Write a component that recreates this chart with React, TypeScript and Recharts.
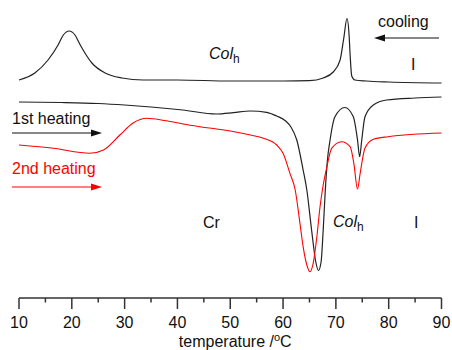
import { Line, LineChart, XAxis, YAxis } from 'recharts';

// DSC traces, heat flow in arbitrary units (endo down)
const coolingCurve = [
  { t: 10, v: 218 }, { t: 13, v: 225 }, { t: 15.5, v: 238 }, { t: 17.4, v: 253 },
  { t: 18.4, v: 263 }, { t: 19.5, v: 267 }, { t: 20.6, v: 263 }, { t: 21.6, v: 253 },
  { t: 23.8, v: 235 }, { t: 26.3, v: 225 }, { t: 29.5, v: 220 }, { t: 33.5, v: 218 },
  { t: 40, v: 218 }, { t: 50, v: 217 }, { t: 60, v: 217 }, { t: 65, v: 217.3 },
  { t: 67.6, v: 220 }, { t: 69.5, v: 226 }, { t: 70.8, v: 238 }, { t: 71.5, v: 260 },
  { t: 72.1, v: 279.5 }, { t: 72.5, v: 263 }, { t: 72.7, v: 243 }, { t: 73.0, v: 222 },
  { t: 73.6, v: 218 }, { t: 75.8, v: 217 }, { t: 80, v: 216 }, { t: 90, v: 215 },
];

const firstHeating = [
  { t: 10, v: 196 }, { t: 18, v: 195.5 }, { t: 25, v: 194.5 }, { t: 30, v: 193 },
  { t: 35, v: 191 }, { t: 41, v: 188 }, { t: 47.4, v: 184 }, { t: 50.6, v: 185.3 },
  { t: 53.8, v: 187 }, { t: 56.9, v: 185.7 }, { t: 58.8, v: 182 }, { t: 60.5, v: 177 },
  { t: 61.5, v: 171 }, { t: 62.6, v: 158 }, { t: 63.8, v: 128 }, { t: 64.5, v: 108 },
  { t: 65.4, v: 68 }, { t: 66.2, v: 36 }, { t: 66.7, v: 27.5 }, { t: 67.2, v: 36 },
  { t: 67.6, v: 68 }, { t: 68.0, v: 108 }, { t: 68.4, v: 138 }, { t: 68.9, v: 158 },
  { t: 69.8, v: 181 }, { t: 71.7, v: 190.5 }, { t: 73.3, v: 181.3 }, { t: 74.1, v: 158 },
  { t: 74.5, v: 141.3 }, { t: 74.9, v: 158 }, { t: 75.5, v: 181 }, { t: 77.1, v: 193 },
  { t: 79.6, v: 198 }, { t: 85, v: 200 }, { t: 90, v: 201 },
];

const secondHeating = [
  { t: 10, v: 153 }, { t: 16.5, v: 149.7 }, { t: 23.4, v: 144.7 }, { t: 26, v: 148 },
  { t: 29.1, v: 163 }, { t: 31.6, v: 175 }, { t: 34.2, v: 179.7 }, { t: 37.5, v: 177.5 },
  { t: 41.1, v: 174 }, { t: 44.5, v: 171 }, { t: 47.4, v: 169 }, { t: 51, v: 166 },
  { t: 53.8, v: 163 }, { t: 56.3, v: 159.7 },
  { t: 58.8, v: 153 }, { t: 60, v: 144.7 }, { t: 61.3, v: 124.7 }, { t: 62.3, v: 108 },
  { t: 63.2, v: 74.7 }, { t: 63.8, v: 51.3 }, { t: 64.5, v: 33 }, { t: 65.1, v: 26.3 },
  { t: 65.7, v: 34.7 }, { t: 66.4, v: 61.3 }, { t: 67, v: 91.3 }, { t: 67.6, v: 113 },
  { t: 68.3, v: 131.3 }, { t: 69.2, v: 149.7 }, { t: 71.1, v: 156.3 }, { t: 72.7, v: 151.3 },
  { t: 73.4, v: 134.7 }, { t: 74.1, v: 109 }, { t: 74.6, v: 124.7 }, { t: 75.5, v: 149.7 },
  { t: 77.1, v: 158.7 }, { t: 79.9, v: 161.3 }, { t: 90, v: 165 },
];

const tempTicks = [10, 15, 20, 25, 30, 35, 40, 45, 50, 55, 60, 65, 70, 75, 80, 85, 90];

const FONT = '"Liberation Sans", Arial, Helvetica, sans-serif';
const AXIS = '#333';

function TempTick({ x, y, payload }: any) {
  const major = payload.value % 10 === 0;
  return (
    <g>
      <line x1={x} x2={x} y1={y} y2={y + (major ? 11 : 4.5)} stroke={AXIS} strokeWidth={1.5} />
      {major && (
        <text x={x} y={y + 30} textAnchor="middle" fontSize={16} fontFamily={FONT} fill="#111">
          {payload.value}
        </text>
      )}
    </g>
  );
}

function AxisTitle({ viewBox }: any) {
  const { x, y, width } = viewBox;
  return (
    <text x={x + width / 2 + 5} y={y + 48.5} textAnchor="middle" fontSize={16} fontFamily={FONT} fill="#111">
      temperature /
      <tspan dy={-6} fontSize={11}>o</tspan>
      <tspan dy={6}>C</tspan>
    </text>
  );
}

function Arrow({ x1, x2, y, color }: { x1: number; x2: number; y: number; color: string }) {
  const dir = x2 > x1 ? 1 : -1;
  const head = 11;
  return (
    <g>
      <line x1={x1} x2={x2 - dir * head} y1={y} y2={y} stroke={color} strokeWidth={1.2} />
      <polygon points={`${x2},${y} ${x2 - dir * head},${y - 3.5} ${x2 - dir * head},${y + 3.5}`} fill={color} />
    </g>
  );
}

function Annotations() {
  const t = { fontSize: 16, fontFamily: FONT, fill: '#111' };
  return (
    <svg width={452} height={350} style={{ position: 'absolute', left: 0, top: 0, pointerEvents: 'none' }}>
      <text x={378} y={27} {...t}>cooling</text>
      <Arrow x1={439} x2={374} y={38} color="#111" />
      <text x={411} y={70} {...t}>I</text>
      <text x={209} y={59} {...t}>
        <tspan fontStyle="italic">Col</tspan>
        <tspan dy={4} fontSize={12}>h</tspan>
      </text>

      <text x={12} y={124} {...t}>1st heating</text>
      <Arrow x1={12} x2={102} y={133} color="#111" />
      <text x={12} y={174} {...t} fill="#f00">2nd heating</text>
      <Arrow x1={12} x2={102} y={187} color="#f00" />

      <text x={203} y={228} {...t}>Cr</text>
      <text x={333} y={227} {...t}>
        <tspan fontStyle="italic">Col</tspan>
        <tspan dy={4} fontSize={12}>h</tspan>
      </text>
      <text x={414} y={228} {...t}>I</text>
    </svg>
  );
}

export default function App() {
  return (
    <div style={{ position: 'absolute', left: 0, top: 0, width: 452, height: 350, background: '#fff' }}>
      <LineChart width={452} height={350} margin={{ top: 10, right: 10.5, bottom: 0, left: 19 }}>
        <XAxis
          type="number"
          dataKey="t"
          domain={[10, 90]}
          ticks={tempTicks}
          interval={0}
          height={52}
          tickSize={0}
          tickMargin={0}
          tickLine={false}
          axisLine={{ stroke: AXIS, strokeWidth: 1.5 }}
          tick={<TempTick />}
          label={{ content: AxisTitle }}
        />
        <YAxis type="number" domain={[0, 288]} hide />
        <Line data={coolingCurve} dataKey="v" type="monotone" stroke="#222" strokeWidth={1.2} dot={false} isAnimationActive={false} />
        <Line data={firstHeating} dataKey="v" type="monotone" stroke="#222" strokeWidth={1.2} dot={false} isAnimationActive={false} />
        <Line data={secondHeating} dataKey="v" type="monotone" stroke="#f00" strokeWidth={1.1} dot={false} isAnimationActive={false} />
      </LineChart>
      <Annotations />
    </div>
  );
}
